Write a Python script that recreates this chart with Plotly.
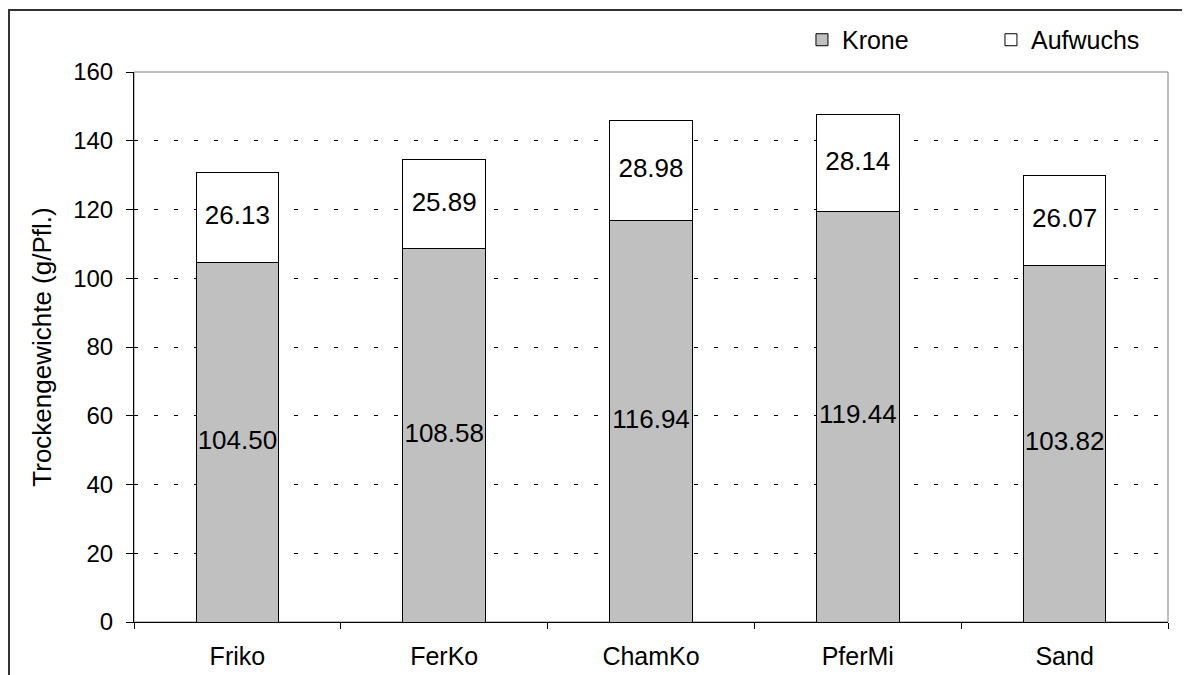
import plotly.graph_objects as go

categories = ["Friko", "FerKo", "ChamKo", "PferMi", "Sand"]
krone = [104.50, 108.58, 116.94, 119.44, 103.82]
aufwuchs = [26.13, 25.89, 28.98, 28.14, 26.07]
y_ticks = [0, 20, 40, 60, 80, 100, 120, 140, 160]

FONT = "Liberation Sans, Arial, sans-serif"

fig = go.Figure()
fig.add_trace(go.Bar(x=categories, y=krone, name="Krone",
                     marker=dict(color="#C0C0C0", line=dict(color="black", width=1))))
fig.add_trace(go.Bar(x=categories, y=aufwuchs, name="Aufwuchs",
                     marker=dict(color="white", line=dict(color="black", width=1))))

# value labels centred in each segment
fig.add_trace(go.Scatter(x=categories, y=[k / 2 for k in krone], mode="text",
                         text=[f"{v:.2f}" for v in krone], showlegend=False,
                         textfont=dict(size=26, color="black", family=FONT), hoverinfo="skip"))
fig.add_trace(go.Scatter(x=categories, y=[k + a / 2 for k, a in zip(krone, aufwuchs)], mode="text",
                         text=[f"{v:.2f}" for v in aufwuchs], showlegend=False,
                         textfont=dict(size=26, color="black", family=FONT), hoverinfo="skip"))

fig.update_layout(
    barmode="stack", bargap=0.6,
    width=1190, height=675,
    margin=dict(l=126, r=30, t=64, b=61, autoexpand=False),
    paper_bgcolor="white", plot_bgcolor="white",
    font=dict(family=FONT, size=25, color="black"),
    showlegend=True,
    legend=dict(orientation="h", x=0.646, xanchor="left",
                yref="container", y=0.9526, yanchor="middle",
                entrywidth=144, entrywidthmode="pixels", itemwidth=30,
                font=dict(size=25), bgcolor="rgba(0,0,0,0)", traceorder="normal"),
    shapes=[
        dict(type="rect", xref="paper", yref="paper", x0=0, x1=1, y0=0, y1=1,
             line=dict(color="#808080", width=1), layer="below"),
        dict(type="rect", xref="paper", yref="paper", x0=-0.1209, x1=1.05, y0=-0.2, y1=1.1127,
             line=dict(color="#333333", width=2), layer="below"),
    ],
)
fig.update_xaxes(type="category", showline=True, linecolor="black", linewidth=1,
                 ticks="outside", tickson="boundaries", ticklen=6, tickcolor="black",
                 ticklabelstandoff=12,
                 showgrid=False, tickfont=dict(size=25))
fig.update_yaxes(range=[0, 160], tickvals=y_ticks, showline=True, linecolor="black", linewidth=1,
                 ticks="outside", ticklen=7, tickcolor="black", ticklabelstandoff=8,
                 showgrid=True, gridcolor="black", gridwidth=1, griddash="4px,16px",
                 zeroline=False, tickfont=dict(size=24), automargin=False,
                 title=dict(text="Trockengewichte (g/Pfl.)", font=dict(size=26), standoff=14))

fig.write_html("out.html")
